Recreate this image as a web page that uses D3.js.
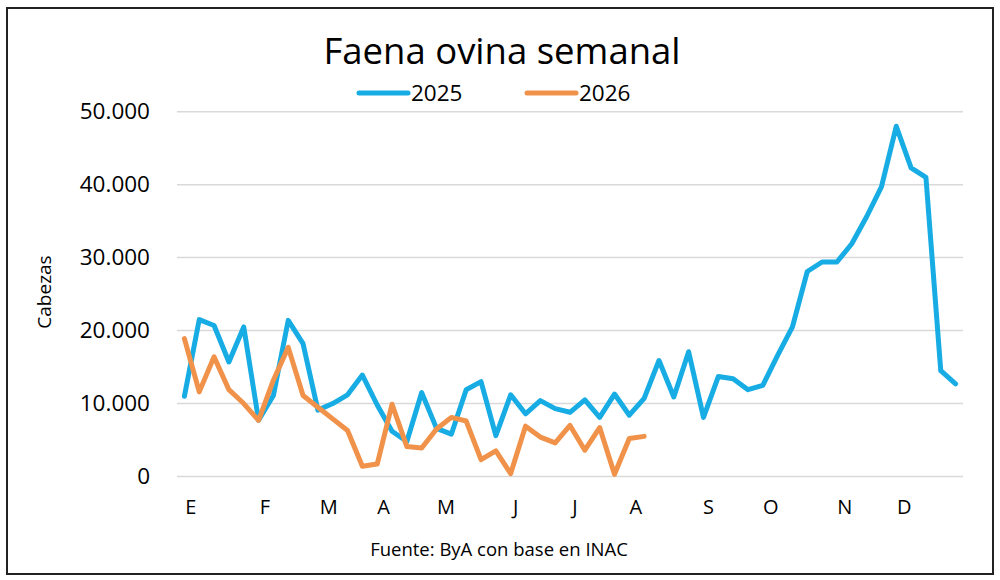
<!DOCTYPE html>
<html>
<head>
<meta charset="utf-8">
<script src="https://cdn.jsdelivr.net/npm/d3@7"></script>
<style>
  body { margin: 0; background: #fff; }
  text { font-family: "Open Sans", sans-serif; fill: #000; }
</style>
</head>
<body>
<div id="chart"></div>
<script>
// weekly values
var weeks2025 = [11000, 21500, 20700, 15700, 20500, 7700, 11100, 21400, 18200, 9100,
    10000, 11200, 13900, 9800, 6200, 4800, 11500, 6600, 5800, 11900,
    13000, 5600, 11200, 8600, 10400, 9300, 8800, 10500, 8100, 11300,
    8400, 10700, 15900, 10900, 17100, 8100, 13700, 13400, 11900, 12500,
    16600, 20500, 28100, 29400, 29400, 31900, 35600, 39700, 48000, 42300,
    41000, 14500, 12700];
var weeks2026 = [18900, 11600, 16400, 11900, 10000, 7700, 13200, 17700, 11100, 9500,
    7900, 6300, 1400, 1700, 9900, 4100, 3900, 6500, 8100, 7600,
    2300, 3500, 400, 6900, 5400, 4600, 7000, 3600, 6700, 300,
    5200, 5500];
var seriesNames = ["2025", "2026"];
var monthLabels = ["E", "F", "M", "A", "M", "J", "J", "A", "S", "O", "N", "D"];
var monthPos = [0.4, 5.4, 9.7, 13.4, 17.6, 22.3, 26.3, 30.4, 35.3, 39.5, 44.5, 48.5];
var yTicks = [0, 10000, 20000, 30000, 40000, 50000];

var width = 1000;
var height = 580;
var colors = ["#17ACE3", "#F0924A"];

var svg = d3.select("#chart").append("svg")
    .attr("width", width)
    .attr("height", height);

svg.append("rect")
    .attr("x", 7)
    .attr("y", 8)
    .attr("width", 986)
    .attr("height", 566)
    .attr("fill", "#fff")
    .attr("stroke", "#222")
    .attr("stroke-width", 2);

var x = d3.scaleLinear()
    .domain([-0.5, weeks2025.length - 0.5])
    .range([177, 963]);

var y = d3.scaleLinear()
    .domain([0, 50000])
    .range([476.5, 111.7]);

var fmt = d3.formatLocale({ decimal: ",", thousands: ".", grouping: [3], currency: ["", ""] }).format(",");

// grid
svg.append("g")
    .selectAll("line")
    .data(yTicks)
    .join("line")
    .attr("x1", x.range()[0])
    .attr("x2", x.range()[1])
    .attr("y1", d => y(d))
    .attr("y2", d => y(d))
    .attr("stroke", "#d9d9d9")
    .attr("stroke-width", 1.5);

var yAxis = svg.append("g")
    .attr("transform", "translate(150,0)")
    .call(d3.axisLeft(y).tickValues(yTicks).tickFormat(fmt).tickSize(0).tickPadding(0));
yAxis.select(".domain").remove();
yAxis.selectAll("text")
    .style("font-size", "22.5px")
    .style("font-family", "'Open Sans', sans-serif")
    .attr("fill", "#000");

var xAxis = svg.append("g")
    .attr("transform", "translate(0,500)")
    .call(d3.axisBottom(x).tickValues(monthPos).tickFormat((d, i) => monthLabels[i]).tickSize(0).tickPadding(0));
xAxis.select(".domain").remove();
xAxis.selectAll("text")
    .style("font-size", "20px")
    .style("font-family", "'Open Sans', sans-serif")
    .attr("fill", "#000");

svg.append("text")
    .text("Cabezas")
    .attr("text-anchor", "middle")
    .style("font-size", "19px")
    .attr("transform", "translate(51,292) rotate(-90)");

var line = d3.line()
    .x((d, i) => x(i))
    .y(d => y(d));

[weeks2025, weeks2026].forEach(function (s, k) {
    svg.append("path")
        .datum(s)
        .attr("fill", "none")
        .attr("stroke", colors[k])
        .attr("stroke-width", 5)
        .attr("stroke-linejoin", "round")
        .attr("stroke-linecap", "round")
        .attr("d", line);
});

svg.append("text")
    .text("Faena ovina semanal")
    .attr("x", 502)
    .attr("y", 64)
    .attr("text-anchor", "middle")
    .style("font-size", "36.5px");

// legend
var legendX = [359, 527];
seriesNames.forEach(function (name, k) {
    svg.append("line")
        .attr("x1", legendX[k])
        .attr("x2", legendX[k] + 49)
        .attr("y1", 93)
        .attr("y2", 93)
        .attr("stroke", colors[k])
        .attr("stroke-width", 5)
        .attr("stroke-linecap", "round");
    svg.append("text")
        .text(name)
        .attr("x", legendX[k] + 52)
        .attr("y", 101)
        .style("font-size", "22.5px");
});

svg.append("text")
    .text("Fuente: ByA con base en INAC")
    .attr("x", 499)
    .attr("y", 556)
    .attr("text-anchor", "middle")
    .style("font-size", "18.5px");
</script>
</body>
</html>
